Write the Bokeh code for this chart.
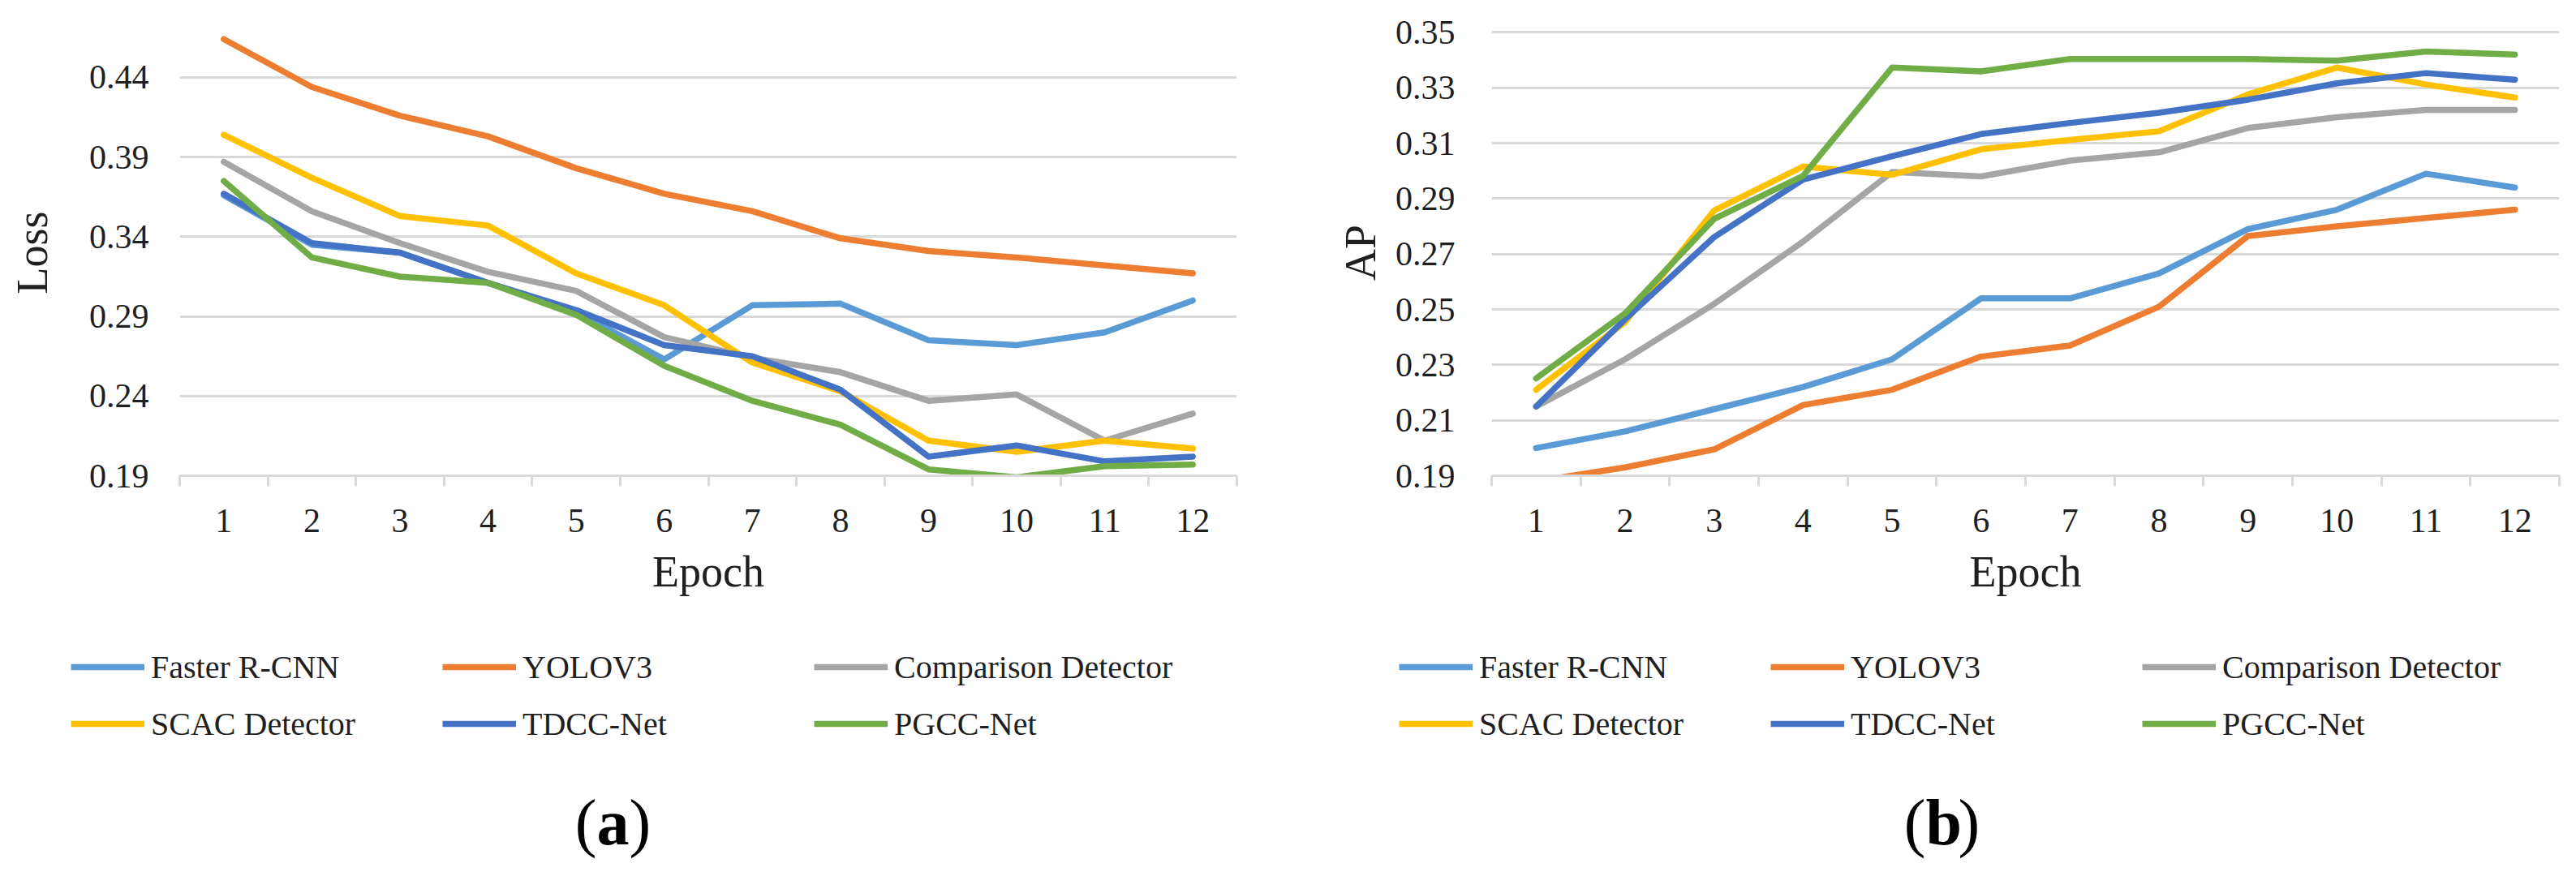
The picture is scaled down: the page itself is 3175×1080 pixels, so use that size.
from bokeh.plotting import figure
from bokeh.models import Range1d, FixedTicker, Legend, LegendItem, Label, PrintfTickFormatter
from bokeh.layouts import row, column
from bokeh.embed import file_html
from bokeh.resources import INLINE

# ---------------- data ----------------
epochs = [1, 2, 3, 4, 5, 6, 7, 8, 9, 10, 11, 12]
series_names = ["Faster R-CNN", "YOLOV3", "Comparison Detector",
                "SCAC Detector", "TDCC-Net", "PGCC-Net"]
series_colors = ["#5B9BD5", "#ED7D31", "#A5A5A5", "#FFC000", "#4472C4", "#70AD47"]

# (a) Loss
loss_faster_rcnn = [0.366, 0.335, 0.330, 0.311, 0.293, 0.263, 0.297, 0.298, 0.275, 0.272, 0.280, 0.300]
loss_yolov3      = [0.464, 0.434, 0.416, 0.403, 0.383, 0.367, 0.356, 0.339, 0.331, 0.327, 0.322, 0.317]
loss_comparison  = [0.387, 0.356, 0.336, 0.318, 0.306, 0.277, 0.264, 0.255, 0.237, 0.241, 0.212, 0.229]
loss_scac        = [0.404, 0.377, 0.353, 0.347, 0.317, 0.297, 0.261, 0.243, 0.212, 0.205, 0.212, 0.207]
loss_tdcc        = [0.367, 0.336, 0.330, 0.311, 0.294, 0.272, 0.265, 0.244, 0.202, 0.209, 0.199, 0.202]
loss_pgcc        = [0.375, 0.327, 0.315, 0.311, 0.291, 0.259, 0.237, 0.222, 0.194, 0.189, 0.196, 0.197]
loss_ticks = [0.19, 0.24, 0.29, 0.34, 0.39, 0.44]

# (b) AP
ap_faster_rcnn = [0.200, 0.206, 0.214, 0.222, 0.232, 0.254, 0.254, 0.263, 0.279, 0.286, 0.299, 0.294]
ap_yolov3      = [0.188, 0.193, 0.1995, 0.2155, 0.221, 0.233, 0.237, 0.251, 0.2765, 0.280, 0.283, 0.286]
ap_comparison  = [0.215, 0.232, 0.252, 0.2745, 0.2996, 0.298, 0.3037, 0.3067, 0.3155, 0.3194, 0.322, 0.322]
ap_scac        = [0.221, 0.2455, 0.2857, 0.3016, 0.2986, 0.3078, 0.3112, 0.3143, 0.3276, 0.3373, 0.3312, 0.3265]
ap_tdcc        = [0.215, 0.2465, 0.2761, 0.2969, 0.3053, 0.3133, 0.3173, 0.321, 0.3257, 0.3316, 0.3353, 0.3329]
ap_pgcc        = [0.2251, 0.2486, 0.2827, 0.2982, 0.3373, 0.3359, 0.3404, 0.3404, 0.3404, 0.3398, 0.3431, 0.342]
ap_ticks = [0.19, 0.21, 0.23, 0.25, 0.27, 0.29, 0.31, 0.33, 0.35]

FONT = "Liberation Serif"
TEXT = "#1f1f1f"
GRID = "#d9d9d9"
LINE_W = 7.5

TOP_H = 760      # chart row height   (page y 8..768)
BOT_H = 304      # legend + caption row height (page y 768..1072)


def make_chart(series, ticks, y_end, y_label, width, border_left, border_right,
               border_top, tick_standoff, label_standoff):
    p = figure(width=width, height=TOP_H, output_backend="svg", toolbar_location=None,
               x_range=Range1d(0.5, 12.5), y_range=Range1d(ticks[0], y_end),
               min_border_left=border_left, min_border_right=border_right,
               min_border_top=border_top, min_border_bottom=174)
    p.outline_line_color = None
    p.background_fill_color = "white"
    p.border_fill_color = "white"

    yt = FixedTicker(ticks=ticks)
    p.yaxis.ticker = yt
    p.yaxis.formatter = PrintfTickFormatter(format="%.2f")
    p.yaxis.axis_line_color = None
    p.yaxis.major_tick_line_color = None
    p.yaxis.minor_tick_line_color = None
    p.yaxis.major_tick_out = 0
    p.yaxis.major_tick_in = 0
    p.yaxis.major_label_standoff = tick_standoff
    p.yaxis.major_label_text_font = FONT
    p.yaxis.major_label_text_font_size = "42px"
    p.yaxis.major_label_text_color = TEXT
    p.yaxis.axis_label = y_label
    p.yaxis.axis_label_text_font = FONT
    p.yaxis.axis_label_text_font_size = "54px"
    p.yaxis.axis_label_text_font_style = "normal"
    p.yaxis.axis_label_text_color = TEXT
    p.yaxis.axis_label_standoff = label_standoff

    xt = FixedTicker(ticks=epochs, minor_ticks=[e - 0.5 for e in epochs] + [epochs[-1] + 0.5])
    p.xaxis.ticker = xt
    p.xaxis.major_label_overrides = {e: str(e) for e in epochs}
    p.xaxis.axis_line_color = GRID
    p.xaxis.axis_line_width = 3
    p.xaxis.major_tick_line_color = None
    p.xaxis.major_tick_out = 0
    p.xaxis.major_tick_in = 0
    p.xaxis.minor_tick_line_color = GRID
    p.xaxis.minor_tick_line_width = 3
    p.xaxis.minor_tick_out = 13
    p.xaxis.minor_tick_in = 0
    p.xaxis.major_label_standoff = 28
    p.xaxis.major_label_text_font = FONT
    p.xaxis.major_label_text_font_size = "42px"
    p.xaxis.major_label_text_color = TEXT
    p.xaxis.axis_label = "Epoch"
    p.xaxis.axis_label_text_font = FONT
    p.xaxis.axis_label_text_font_size = "54px"
    p.xaxis.axis_label_text_font_style = "normal"
    p.xaxis.axis_label_text_color = TEXT
    p.xaxis.axis_label_standoff = 16

    p.xgrid.visible = False
    p.ygrid.ticker = yt
    p.ygrid.grid_line_color = GRID
    p.ygrid.grid_line_width = 3

    for color, vals in zip(series_colors, series):
        p.line(x=epochs, y=vals, line_color=color, line_width=LINE_W,
               line_join="round", line_cap="round")
    return p


def make_legend(series, width, legend_x, caption, caption_cx):
    """Legend row + caption: a bare figure whose frame is the whole area (1 unit = 1 px)."""
    q = figure(width=width, height=BOT_H, output_backend="svg", toolbar_location=None,
               x_range=Range1d(0, width), y_range=Range1d(0, BOT_H),
               x_axis_type=None, y_axis_type=None,
               min_border_left=0, min_border_right=0, min_border_top=0, min_border_bottom=0)
    q.outline_line_color = None
    q.background_fill_color = "white"
    q.border_fill_color = "white"

    items = []
    for name, color, vals in zip(series_names, series_colors, series):
        r = q.line(x=epochs, y=vals, line_color=color, line_width=LINE_W, visible=False)
        items.append(LegendItem(label=name, renderers=[r]))

    item_h = 54
    spacing = 16
    row1_center = 830 - 768          # from top of this row
    leg_bottom_from_top = row1_center - item_h / 2 + 2 * item_h + spacing
    legend = Legend(items=items, location=(legend_x, BOT_H - leg_bottom_from_top),
                    orientation="horizontal", ncols=3,
                    glyph_width=91, glyph_height=item_h, label_height=item_h, label_width=343,
                    label_standoff=8, spacing=spacing, padding=0, margin=0,
                    border_line_color=None, background_fill_alpha=0,
                    label_text_font=FONT, label_text_font_size="40px", label_text_color=TEXT)
    q.add_layout(legend)

    cap_cy = BOT_H - (1021 - 768)
    fs = 80
    w_par = 0.333 * fs
    w_a = 0.5 * fs
    left = caption_cx - (2 * w_par + w_a) / 2
    parts = [("(", "normal", left), (caption, "bold", left + w_par), (")", "normal", left + w_par + w_a)]
    for txt, style, px in parts:
        q.add_layout(Label(x=px, y=cap_cy, text=txt, text_font=FONT, text_font_size=f"{fs}px",
                           text_font_style=style, text_color="black", text_align="left",
                           text_baseline="middle"))
    return q


loss_series = [loss_faster_rcnn, loss_yolov3, loss_comparison, loss_scac, loss_tdcc, loss_pgcc]
ap_series = [ap_faster_rcnn, ap_yolov3, ap_comparison, ap_scac, ap_tdcc, ap_pgcc]

# panel a: page x 8..1588 ; frame 229..1532
pa = make_chart(loss_series, loss_ticks, 0.47, "Loss", width=1580,
                border_left=221, border_right=56, border_top=29,
                tick_standoff=38, label_standoff=37)
la = make_legend(loss_series, 1580, legend_x=95 - 8, caption="a", caption_cx=763 - 8)

# panel b: page x 1588..3167 ; frame 1846..3162
pb = make_chart(ap_series, ap_ticks, 0.351, "AP", width=1579,
                border_left=258, border_right=5, border_top=36,
                tick_standoff=45, label_standoff=10)
lb = make_legend(ap_series, 1579, legend_x=1732 - 1588, caption="b", caption_cx=2401 - 1588)

layout = column(row(pa, pb, spacing=0), row(la, lb, spacing=0), spacing=0)
open("out.html", "w").write(file_html(layout, INLINE))
